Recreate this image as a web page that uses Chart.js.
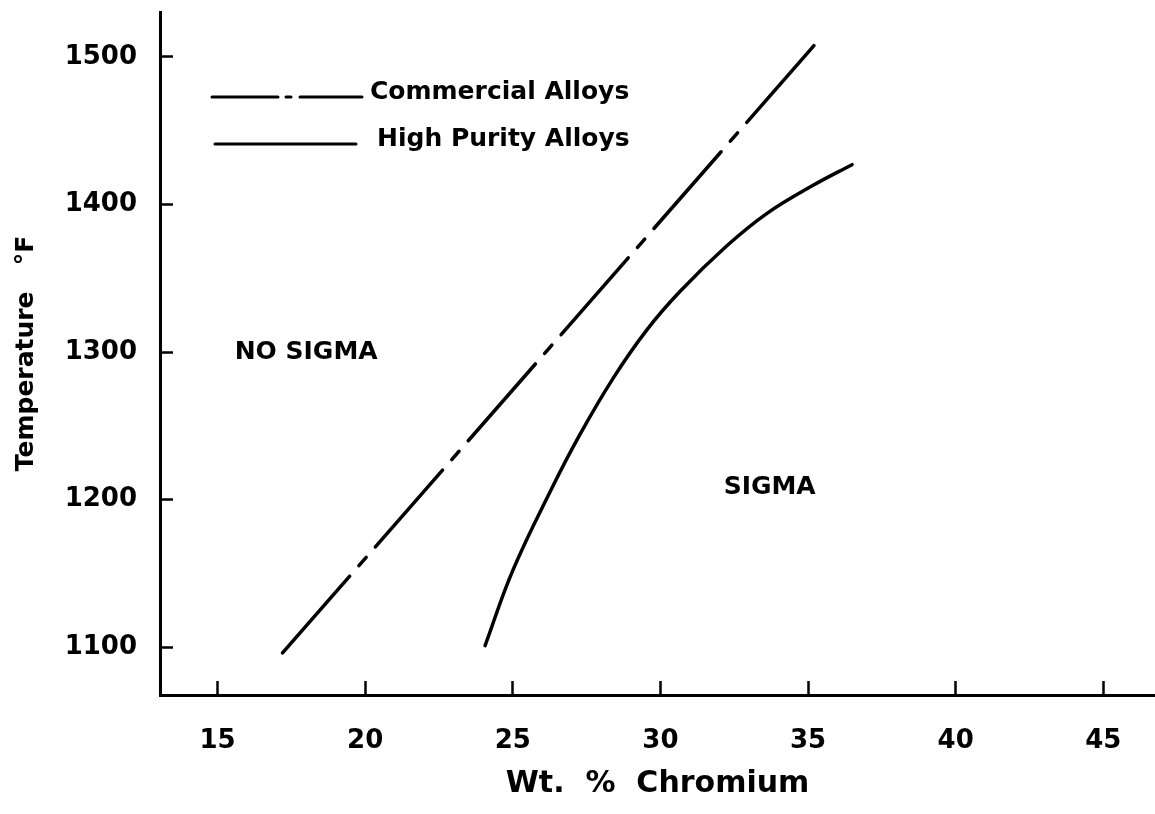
<!DOCTYPE html>
<html lang="en">

<head>
  <meta charset="UTF-8">
  <title>Sigma phase boundary</title>
  <script src="https://cdn.jsdelivr.net/npm/chart.js@4.4.0/dist/chart.umd.min.js"></script>
  <style>
    body { margin: 0; background: #fff; }
  </style>
</head>

<body>
  <canvas id="sigmaChart" width="1155" height="814"></canvas>

  <script>
    // values
    const xTicks = [15, 20, 25, 30, 35, 40, 45];
    const yTicks = [1100, 1200, 1300, 1400, 1500];

    const seriesNames = ["Commercial Alloys", "High Purity Alloys"];

    // commercial alloys: straight dashed line
    const commercialCr = [17.2, 35.3];
    const commercialT = [1096, 1510];

    // high purity alloys: solid curve
    const purityCr = [24.06, 25.0, 26.33, 27.27, 28.39, 29.54, 30.66, 32.25, 33.61, 35.17, 36.49];
    const purityT = [1101, 1152, 1208, 1244, 1282, 1315, 1341, 1372, 1394, 1413, 1427];

    // region labels
    const regionNames = ["NO SIGMA", "SIGMA"];
    const regionCr = [18.0, 33.7];
    const regionT = [1300, 1208];

    const toPoints = (xs, ys) => xs.map((v, i) => ({ x: v, y: ys[i] }));
    const font = size => ({ family: "'DejaVu Sans', sans-serif", size: size, weight: "bold" });

    // legend and region text drawn on top of the plot
    const annotations = {
      id: "annotations",
      afterDatasetsDraw(chart) {
        const { ctx, scales: { x, y } } = chart;
        ctx.save();
        ctx.fillStyle = "#000";
        ctx.strokeStyle = "#000";
        ctx.font = "bold 25px 'DejaVu Sans', sans-serif";
        ctx.textBaseline = "middle";
        ctx.textAlign = "center";
        regionNames.forEach((t, i) => {
          ctx.fillText(t, x.getPixelForValue(regionCr[i]), y.getPixelForValue(regionT[i]));
        });

        ctx.textAlign = "left";
        chart.data.datasets.forEach((ds, i) => {
          const ly = 97 + i * 47;
          ctx.lineWidth = 3;
          ctx.lineCap = "round";
          ctx.setLineDash(ds.legendDash || []);
          ctx.beginPath();
          ctx.moveTo(212 + i * 3, ly);
          ctx.lineTo(362 - i * 6, ly);
          ctx.stroke();
          ctx.setLineDash([]);
          ctx.fillText(ds.label, 370 + i * 7, ly - 5);
        });
        ctx.restore();
      }
    };

    new Chart(document.getElementById("sigmaChart"), {
      type: "line",
      data: {
        datasets: [{
          label: seriesNames[0],
          data: toPoints(commercialCr, commercialT),
          borderColor: "#000",
          borderWidth: 3.5,
          borderCapStyle: "round",
          borderDash: [102, 14, 11, 14],
          legendDash: [66, 8, 5, 9, 300],
          pointRadius: 0
        }, {
          label: seriesNames[1],
          data: toPoints(purityCr, purityT),
          borderColor: "#000",
          borderWidth: 3.5,
          borderCapStyle: "round",
          tension: 0.4,
          pointRadius: 0
        }]
      },
      options: {
        responsive: false,
        animation: false,
        devicePixelRatio: 1,
        layout: { padding: { top: 12, right: 0, bottom: 0, left: 0 } },
        plugins: {
          legend: { display: false },
          tooltip: { enabled: false }
        },
        events: [],
        scales: {
          x: {
            type: "linear",
            min: 13.05,
            max: 46.75,
            afterBuildTicks: s => { s.ticks = xTicks.map(v => ({ value: v })); },
            afterFit: s => { s.height = 119; s.paddingLeft = 0; s.paddingRight = 0; },
            border: { display: true, color: "#000", width: 3 },
            // inward tick marks only
            grid: { drawOnChartArea: false, color: "#000", tickLength: -14, tickWidth: 2.5 },
            ticks: { color: "#000", font: font(26), padding: 45, maxRotation: 0 },
            title: {
              display: true,
              text: "Wt.  %  Chromium",
              color: "#000",
              font: font(30),
              padding: { top: 0, bottom: 12 }
            }
          },
          y: {
            type: "linear",
            min: 1067.5,
            max: 1530.5,
            afterBuildTicks: s => { s.ticks = yTicks.map(v => ({ value: v })); },
            afterFit: s => { s.width = 160; s.paddingTop = 0; s.paddingBottom = 0; },
            border: { display: true, color: "#000", width: 3 },
            grid: { drawOnChartArea: false, color: "#000", tickLength: -13, tickWidth: 2.5 },
            ticks: { color: "#000", font: font(26), padding: 36, format: { useGrouping: false } },
            title: {
              display: true,
              text: "Temperature   °F",
              color: "#000",
              font: font(25),
              padding: { top: 11, bottom: 0 }
            }
          }
        }
      },
      plugins: [annotations]
    });
  </script>
</body>

</html>
